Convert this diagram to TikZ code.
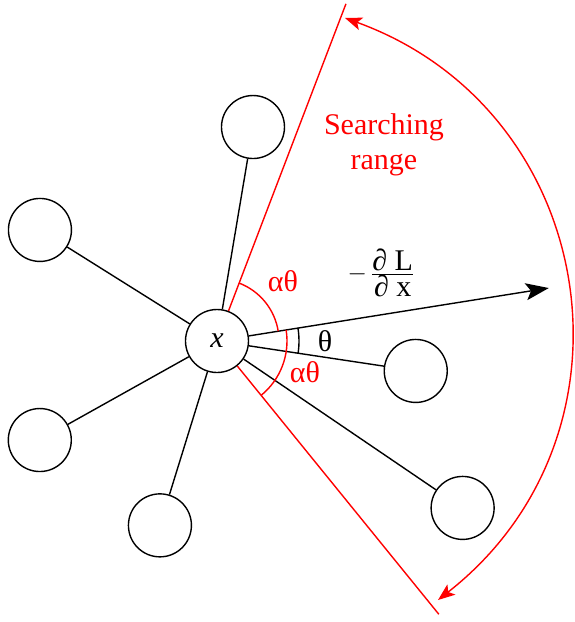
\documentclass[tikz,border=0pt]{standalone}
\usepackage{fontspec}
\setmainfont{Liberation Serif}
\usetikzlibrary{arrows.meta, angles}
\tikzset{
  nb/.style={draw, circle, line width=1.4pt, minimum size=63pt, inner sep=0pt},
  ln/.style={line width=1.4pt},
  rln/.style={draw=red, line width=1.4pt},
  grad/.style={-{Stealth[length=23pt, width=17pt, inset=5pt]}, line width=1.4pt},
  rng/.style={{Stealth[length=17pt, width=13pt, inset=4pt]}-{Stealth[length=17pt, width=13pt, inset=4pt]}, draw=red, line width=1.4pt},
  lbl/.style={text=red, inner sep=0pt},
}

\begin{document}
\begin{tikzpicture}[x=1pt, y=1pt, font=\fontsize{30}{35}\selectfont]
    \useasboundingbox (-217,-281) rectangle (357,341);
    \node[nb] (x) at (0,0) {\textit{x}};
    % neighbours
    \foreach \ang/\rad [count=\i] in {80.45/217, 147.9/209, 209.2/203, 252.8/193, -8.57/201, -34.2/297}
      \node[nb] (n\i) at (\ang:\rad) {};
    \foreach \i in {1,...,6}
      \draw[ln] (x) -- (n\i);
    % gradient
    \coordinate (g) at (9.07:336);
    \draw[grad] (x) -- (g);
    \node[inner sep=1pt] (gl) at (164,68) {$-\,\frac{\mbox{∂ L}}{\mbox{∂ x}}$};
    % searching range
    \coordinate (u) at (69.07:361);
    \coordinate (d) at (-50.93:352);
    \draw[rln] (x) -- (u);
    \draw[rln] (x) -- (d);
    \pic[rln, angle radius=62pt] {angle = g--x--u};
    \pic[rln, angle radius=70pt] {angle = d--x--g};
    \pic[ln, draw, angle radius=82pt] {angle = n5--x--g};
    \node[lbl] (a1) at (66,60) {αθ};
    \node[lbl] (a2) at (88,-31) {αθ};
    \node[inner sep=0pt] (t) at (108,0) {θ};
    \coordinate (s1) at (128,323);
    \coordinate (s2) at (221,-259);
    \draw[rng] (s1) to[bend left=61, looseness=1.17] (s2);
    \node[text=red, align=center] (sr) at (167,196) {Searching\\range};
\end{tikzpicture}
\end{document}
